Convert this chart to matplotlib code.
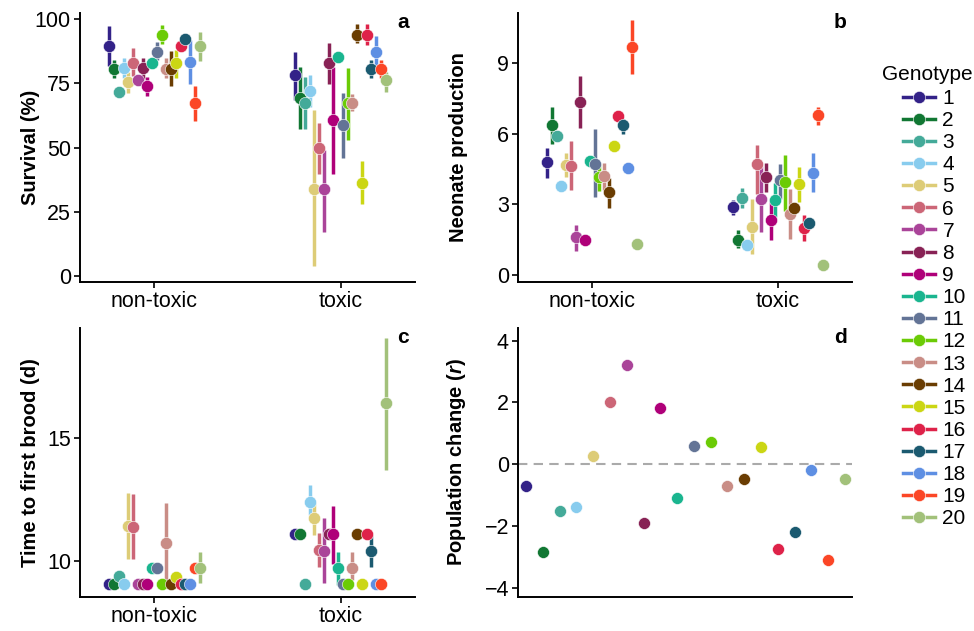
import numpy as np
import matplotlib
matplotlib.use("Agg")
import matplotlib.pyplot as plt
from matplotlib.lines import Line2D

plt.rcParams['font.family'] = ['Liberation Sans', 'DejaVu Sans']
plt.rcParams['mathtext.fontset'] = 'custom'
plt.rcParams['mathtext.bfit'] = 'Liberation Sans:bold:italic'

genotypes = [str(i) for i in range(1, 21)]
treatments = ['non-toxic', 'toxic']
colors = ['#332288', '#117733', '#44AA99', '#88CCEE', '#DDCC77', '#CC6677',
          '#AA4499', '#882255', '#AF0079', '#1AB58F', '#637496', '#6BCB06',
          '#C98D86', '#6A3D02', '#CBD614', '#DE2249', '#1B5A70', '#5E8FE3',
          '#FB4626', '#A2C17A']

# survival (%)
surv_nt = [89.6, 80.6, 71.7, 80.9, 75.6, 83.0, 76.3, 80.9, 74.0, 82.8,
           87.4, 94.0, 80.6, 80.5, 83.0, 89.8, 92.3, 83.2, 67.2, 89.6]
surv_nt_lo = [82.0, 77.0, 71.7, 77.3, 71.4, 77.9, 74.5, 76.6, 70.0, 81.0,
              84.0, 90.4, 77.0, 74.0, 77.3, 88.5, 91.0, 74.7, 60.4, 83.7]
surv_nt_hi = [97.4, 84.0, 71.7, 84.8, 79.5, 88.7, 78.0, 84.8, 77.6, 84.5,
              91.3, 97.8, 84.8, 87.8, 88.0, 91.0, 93.5, 92.0, 74.0, 95.2]
surv_t = [78.3, 69.4, 67.4, 72.1, 33.7, 49.9, 33.7, 82.8, 60.9, 85.2,
          58.7, 67.4, 67.4, 94.0, 36.3, 94.0, 80.6, 87.4, 80.6, 76.3]
surv_t_lo = [68.5, 57.4, 57.4, 65.9, 3.6, 39.8, 17.0, 74.7, 39.6, 85.2,
             46.0, 53.1, 64.3, 90.6, 27.9, 90.2, 77.3, 80.0, 77.3, 71.7]
surv_t_hi = [87.4, 81.5, 77.6, 78.3, 64.6, 59.6, 49.2, 90.6, 81.5, 85.2,
             71.1, 81.2, 70.8, 98.2, 44.7, 98.2, 84.1, 93.5, 84.0, 79.6]

# neonate production
neo_nt = [4.80, 6.37, 5.91, 3.78, 4.67, 4.63, 1.60, 7.37, 1.50, 4.84,
          4.70, 4.16, 4.20, 3.53, 5.48, 6.76, 6.40, 4.53, 9.71, 1.32]
neo_nt_lo = [4.13, 5.59, 5.91, 3.78, 4.17, 3.61, 1.01, 6.26, 1.50, 4.84,
             3.32, 3.56, 3.63, 2.85, 5.48, 6.76, 5.98, 4.53, 8.53, 1.32]
neo_nt_hi = [5.41, 7.16, 5.91, 3.78, 5.20, 5.69, 2.14, 8.46, 1.50, 4.84,
             6.22, 4.70, 4.77, 4.13, 5.48, 6.76, 6.62, 4.53, 10.87, 1.32]
neo_t = [2.88, 1.50, 3.25, 1.25, 2.03, 4.70, 3.21, 4.17, 2.33, 3.18,
         4.02, 3.95, 2.57, 2.83, 3.88, 1.99, 2.21, 4.34, 6.79, 0.41]
neo_t_lo = [2.53, 1.15, 2.85, 1.25, 0.87, 3.46, 1.82, 3.52, 1.48, 2.47,
            3.24, 2.71, 1.53, 2.83, 3.09, 1.43, 2.21, 3.52, 6.40, 0.41]
neo_t_hi = [3.18, 1.90, 3.70, 1.25, 3.21, 5.52, 4.63, 4.77, 3.24, 3.92,
            4.70, 5.10, 3.66, 2.83, 4.60, 2.53, 2.21, 5.20, 7.16, 0.41]

# time to first brood (d)
brood_nt = [9.07, 9.07, 9.40, 9.07, 11.43, 11.40, 9.07, 9.07, 9.07, 9.73,
            9.73, 9.07, 10.73, 9.07, 9.35, 9.07, 9.07, 9.07, 9.70, 9.72]
brood_nt_lo = [9.07, 9.07, 9.25, 9.07, 10.10, 10.07, 9.07, 9.07, 9.07, 9.58,
               9.58, 9.07, 9.23, 9.07, 9.35, 9.07, 9.07, 9.07, 9.55, 9.10]
brood_nt_hi = [9.07, 9.07, 9.55, 9.07, 12.76, 12.72, 9.07, 9.07, 9.07, 9.88,
               9.88, 9.07, 12.36, 9.07, 9.35, 9.07, 9.07, 9.07, 9.85, 10.37]
brood_t = [11.1, 11.1, 9.07, 12.4, 11.75, 10.45, 10.41, 11.1, 11.1, 9.72,
           9.07, 9.07, 9.72, 11.1, 9.07, 11.1, 10.41, 9.07, 9.07, 16.41]
brood_t_lo = [11.1, 11.1, 9.07, 11.87, 11.06, 9.76, 9.10, 11.1, 9.88, 9.02,
              9.07, 9.07, 9.23, 11.1, 9.07, 11.1, 9.76, 9.07, 9.07, 13.7]
brood_t_hi = [11.1, 11.1, 9.07, 13.09, 12.40, 11.14, 11.75, 11.1, 12.24, 10.37,
              9.07, 9.07, 10.37, 11.1, 9.07, 11.1, 11.06, 9.07, 9.07, 19.05]

# population change r
pop_r = [-0.70, -2.85, -1.50, -1.37, 0.26, 2.02, 3.22, -1.91, 1.83, -1.08,
         0.60, 0.71, -0.70, -0.48, 0.57, -2.75, -2.20, -0.18, -3.09, -0.48]

TICK_FS = 15.5
LAB_FS = 14.5
LEG_FS = 15
dodge = 0.51
n = len(genotypes)


def style_axis(ax, letter, ylabel, labx):
    for s in ['top', 'right']:
        ax.spines[s].set_visible(False)
    for s in ['left', 'bottom']:
        ax.spines[s].set_linewidth(1.4)
    ax.tick_params(axis='both', labelsize=TICK_FS, width=1.2, length=4,
                   pad=2.5, colors='black')
    ax.set_ylabel(ylabel, fontsize=LAB_FS, fontweight='bold')
    ax.yaxis.set_label_coords(labx, 0.5)
    ax.text(0.964, 0.965, letter, transform=ax.transAxes, ha='center', va='center',
            fontsize=15, fontweight='bold')


def pointrange(ax, values, letter, ylabel, ylim, yticks, labx):
    # values: list of (mean, lo, hi) per treatment
    offsets = (np.arange(n) - (n - 1) / 2) * dodge / n
    for t, (mid, lo, hi) in enumerate(values):
        x = t + 1 + offsets
        for i in range(n):
            ax.plot([x[i], x[i]], [lo[i], hi[i]], color=colors[i], lw=2.5,
                    solid_capstyle='butt', zorder=2)
        for i in range(n):
            ax.plot(x[i], mid[i], 'o', color=colors[i], ms=8.8, mec='white',
                    mew=0.4, zorder=3)
    ax.set_xlim(0.6, 2.4)
    ax.set_xticks([1, 2])
    ax.set_xticklabels(treatments)
    ax.set_ylim(*ylim)
    ax.set_yticks(yticks)
    style_axis(ax, letter, ylabel, labx)


fig = plt.figure(figsize=(9.74, 6.31), dpi=100)
ax_a = fig.add_axes([0.0821, 0.553, 0.344, 0.4268])
ax_b = fig.add_axes([0.5318, 0.553, 0.343, 0.4268])
ax_c = fig.add_axes([0.0821, 0.0539, 0.344, 0.4263])
ax_d = fig.add_axes([0.5318, 0.0539, 0.343, 0.4263])

pointrange(ax_a, [(surv_nt, surv_nt_lo, surv_nt_hi), (surv_t, surv_t_lo, surv_t_hi)],
           'a', 'Survival (%)', (-2.5, 102.6), [0, 25, 50, 75, 100], -0.12)
pointrange(ax_b, [(neo_nt, neo_nt_lo, neo_nt_hi), (neo_t, neo_t_lo, neo_t_hi)],
           'b', 'Neonate production', (-0.31, 11.16), [0, 3, 6, 9], -0.15)
pointrange(ax_c, [(brood_nt, brood_nt_lo, brood_nt_hi), (brood_t, brood_t_lo, brood_t_hi)],
           'c', 'Time to first brood (d)', (8.54, 19.47), [10, 15], -0.12)

# panel d: one point per genotype
xd = np.arange(1, n + 1)
ax_d.axhline(0, color='#AAAAAA', lw=1.5, ls=(0, (4.5, 3)), zorder=1)
for i in range(n):
    ax_d.plot(xd[i], pop_r[i], 'o', color=colors[i], ms=8.6, mec='white',
              mew=0.4, zorder=3)
ax_d.set_xlim(0.52, 20.42)
ax_d.set_ylim(-4.3, 4.41)
ax_d.set_yticks([-4, -2, 0, 2, 4])
ax_d.set_xticks([])
style_axis(ax_d, 'd', 'Population change ($\\mathbfit{r}$)', -0.15)

# legend: title as separate text so the keys sit indented under it
fig.text(882 / 974, 1 - 75 / 631, 'Genotype', fontsize=LEG_FS, ha='left', va='center')
handles = [Line2D([0], [0], color=c, lw=2.5, marker='o', ms=8.8, mec='white', mew=0.4)
           for c in colors]
fig.legend(handles, genotypes, loc='upper left',
           bbox_to_anchor=(903 / 974, 1 - 89 / 631), frameon=False, fontsize=LEG_FS,
           handlelength=1.55, handletextpad=0.34, labelspacing=0.15,
           borderaxespad=0, borderpad=0)

fig.savefig('out.png', dpi=100)
